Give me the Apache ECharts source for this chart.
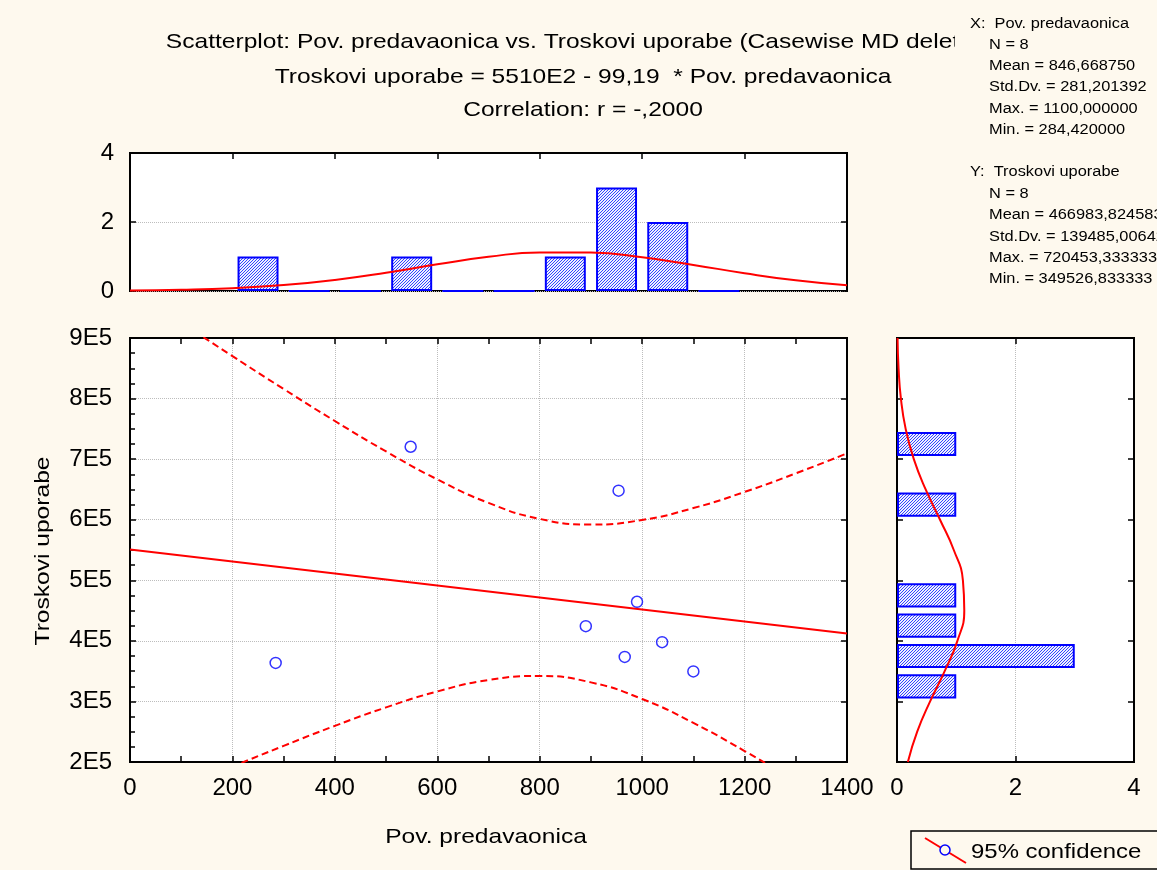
<!DOCTYPE html>
<html><head><meta charset="utf-8">
<script src="https://cdn.jsdelivr.net/npm/echarts@6/dist/echarts.min.js"></script>
<style>html,body{margin:0;padding:0;background:#fef9ee}#c{width:1157px;height:870px}</style>
</head><body><div id="c"></div>
<script>
// ---- data ----
const xVals = [284.42, 548, 954, 990, 890, 966, 1039, 1100];
const yVals = [363600, 720453, 648000, 464500, 424300, 373500, 397800, 349527];
const regX = [0, 1400];
const regY = [551000, 412134];
const bandX = [0,100,200,300,400,500,600,700,800,900,1000,1100,1200,1300,1400];
const upperBand = [981455,925431,870104,815781,762994,712682,666566,627786,601352,592036,599633,619197,645835,676516,709588];
const lowerBand = [120545,156731,192220,226705,259654,290128,316406,335348,341944,331422,303987,264585,218109,167590,114680];
const topBins = ['0','100','200','300','400','500','600','700','800','900','1000','1100','1200','1300'];
const topCounts = ['-','-',1,0,0,1,0,0,1,3,2,0,'-','-'];
const topCurveX = [0,100,200,300,400,500,600,700,800,900,1000,1100,1200,1300,1400];
const topCurve = [0.0122,0.0334,0.0806,0.1715,0.3217,0.531,0.7725,0.9906,1.1195,1.1148,0.978,0.7564,0.5154,0.3095,0.1638];
const rightBins = ['200000','250000','300000','350000','400000','450000','500000','550000','600000','650000','700000','750000','800000','850000'];
const rightCounts = ['-','-',1,3,1,1,'-','-',1,'-',1,'-','-','-'];
const rightCurveY = [200000,250000,300000,350000,400000,450000,500000,550000,600000,650000,700000,750000,800000,850000,900000];
const rightCurve = [0.1832,0.3411,0.5587,0.8048,1.0194,1.1356,1.1124,0.9583,0.7261,0.4837,0.2835,0.1461,0.0661,0.0264,0.0093];
const titleLines = ['Scatterplot: Pov. predavaonica vs. Troskovi uporabe (Casewise MD deletion)',
  'Troskovi uporabe = 5510E2 - 99,19  * Pov. predavaonica',
  'Correlation: r = -,2000'];
const statsX = ['X:  Pov. predavaonica','N = 8','Mean = 846,668750','Std.Dv. = 281,201392','Max. = 1100,000000','Min. = 284,420000'];
const statsY = ['Y:  Troskovi uporabe','N = 8','Mean = 466983,824583','Std.Dv. = 139485,006420','Max. = 720453,333333','Min. = 349526,833333'];
const xName = 'Pov. predavaonica';
const yName = 'Troskovi uporabe';
const legendText = '95% confidence';

// ---- style ----
const FONT = '"Liberation Sans", Arial, sans-serif';
const BG = '#fef9ee';
function hatch(){
  const c = document.createElement('canvas'); c.width = 3; c.height = 3;
  const g = c.getContext('2d');
  g.fillStyle = '#eef0ff'; g.fillRect(0,0,3,3);
  g.strokeStyle = '#3344ff'; g.lineWidth = 1;
  g.beginPath();
  g.moveTo(0,3); g.lineTo(3,0);
  g.moveTo(-1,1); g.lineTo(1,-1);
  g.moveTo(2,4); g.lineTo(4,2);
  g.stroke();
  return c;
}
const hatchFill = {image: hatch(), repeat: 'repeat'};
const axLine = {show:true, onZero:false, lineStyle:{color:'#000', width:2}};
const tickIn = {show:true, inside:true, length:6, lineStyle:{color:'#000', width:1.5}};
const grid = (l,t,w,h)=>({left:l, top:t, width:w, height:h, show:true, backgroundColor:'#fff', borderColor:'#000', borderWidth:2, containLabel:false});
const lbl = (m)=>({show:true, color:'#000', fontSize:24, fontFamily:FONT, margin:m, formatter:v=>String(v)});
const split = {show:true, lineStyle:{color:'#bdbdbd', type:'dotted', width:1}};
const noLbl = {show:false};
const noSplit = {show:false};

const chart = echarts.init(document.getElementById('c'), null, {renderer:'canvas'});

const txt = (t,x,y,fs,sx,align,extra)=>Object.assign({type:'text', x:x, y:y, z:50, scaleX:sx, originX:0, originY:0,
  style:{text:t, fontSize:fs, fontFamily:FONT, fill:'#000', textAlign:align, align:align, textVerticalAlign:'middle', verticalAlign:'middle'}}, extra||{});

const graphics = [];
const titleY = [42, 77, 110];
titleLines.forEach((t,i)=>graphics.push(txt(t,583,titleY[i],21,1.17,'center')));
graphics.push({type:'rect', z:60, shape:{x:955,y:0,width:210,height:300}, style:{fill:BG}});
const sxY = [24,45,66,87,109,130];
const syY = [172,194,215,237,258,279];
statsX.forEach((t,i)=>graphics.push(txt(t, i===0?970:989, sxY[i], 14, 1.17, 'left', {z:70})));
statsY.forEach((t,i)=>graphics.push(txt(t, i===0?970:989, syY[i], 14, 1.17, 'left', {z:70})));
graphics.push(txt(xName, 486, 837, 21, 1.17, 'center'));
graphics.push(txt(yName, 43, 551, 21, 1.17, 'center', {rotation: Math.PI/2}));
graphics.push({type:'rect', z:60, shape:{x:911,y:831,width:260,height:38}, style:{fill:BG, stroke:'#000', lineWidth:1.5}});
graphics.push({type:'line', z:61, shape:{x1:925,y1:838,x2:966,y2:863}, style:{stroke:'#ff0000', lineWidth:2}});
graphics.push({type:'circle', z:62, shape:{cx:945,cy:850,r:5}, style:{fill:BG, stroke:'#0000ff', lineWidth:1.5}});
graphics.push(txt(legendText, 971, 852, 21, 1.14, 'left', {z:63}));

const option = {
  backgroundColor: BG,
  animation: false,
  grid: [grid(130,338,717,424), grid(130,153,717,138), grid(897,338,237,424)],
  xAxis: [
    {gridIndex:0, type:'value', min:0, max:1400, interval:200, position:'bottom', axisLine:axLine, axisTick:tickIn,
      minorTick:{show:true, splitNumber:2, length:6, lineStyle:{color:'#000', width:1.5}}, axisLabel:lbl(14), splitLine:split},
    {gridIndex:0, type:'value', min:0, max:1400, interval:200, position:'top', axisLine:axLine, axisTick:tickIn,
      minorTick:{show:true, splitNumber:2, length:6, lineStyle:{color:'#000', width:1.5}}, axisLabel:noLbl, splitLine:noSplit},
    {gridIndex:1, type:'category', data:topBins, show:false},
    {gridIndex:1, type:'value', min:0, max:1400, interval:200, position:'top', axisLine:axLine, axisTick:tickIn, axisLabel:noLbl, splitLine:noSplit},
    {gridIndex:2, type:'value', min:0, max:4, interval:2, position:'bottom', axisLine:axLine, axisTick:tickIn, axisLabel:lbl(14), splitLine:split},
    {gridIndex:2, type:'value', min:0, max:4, interval:2, position:'top', axisLine:axLine, axisTick:tickIn, axisLabel:noLbl, splitLine:noSplit}
  ],
  yAxis: [
    {gridIndex:0, type:'value', min:200000, max:900000, interval:100000, position:'left', axisLine:axLine, axisTick:tickIn,
      minorTick:{show:true, splitNumber:4, length:5, lineStyle:{color:'#000', width:1.5}},
      axisLabel:Object.assign(lbl(18), {formatter:v=>(v/100000)+'E5'}), splitLine:split},
    {gridIndex:0, type:'value', min:200000, max:900000, interval:100000, position:'right', axisLine:axLine, axisTick:tickIn, axisLabel:noLbl, splitLine:noSplit},
    {gridIndex:1, type:'value', min:0, max:4, interval:2, position:'left', axisLine:axLine, axisTick:tickIn, axisLabel:lbl(16), splitLine:split},
    {gridIndex:1, type:'value', min:0, max:4, interval:2, position:'right', axisLine:axLine, axisTick:tickIn, axisLabel:noLbl, splitLine:noSplit},
    {gridIndex:2, type:'category', data:rightBins, show:false},
    {gridIndex:2, type:'value', min:200000, max:900000, interval:100000, position:'left', axisLine:axLine, axisTick:tickIn, axisLabel:noLbl, splitLine:noSplit},
    {gridIndex:2, type:'value', min:200000, max:900000, interval:100000, position:'right', axisLine:axLine, axisTick:tickIn, axisLabel:noLbl, splitLine:noSplit}
  ],
  series: [
    {type:'line', xAxisIndex:0, yAxisIndex:0, data:regX.map((x,i)=>[x,regY[i]]), symbol:'none', silent:true,
      lineStyle:{color:'#ff0000', width:2}, z:3},
    {type:'line', xAxisIndex:0, yAxisIndex:0, data:bandX.map((x,i)=>[x,upperBand[i]]), symbol:'none', smooth:true, silent:true, clip:true,
      lineStyle:{color:'#ff0000', width:2, type:[7,4]}, z:3},
    {type:'line', xAxisIndex:0, yAxisIndex:0, data:bandX.map((x,i)=>[x,lowerBand[i]]), symbol:'none', smooth:true, silent:true, clip:true,
      lineStyle:{color:'#ff0000', width:2, type:[7,4]}, z:3},
    {type:'scatter', xAxisIndex:0, yAxisIndex:0, data:xVals.map((x,i)=>[x,yVals[i]]), symbol:'circle', symbolSize:11,
      itemStyle:{color:'rgba(255,255,255,0)', borderColor:'#0000ff', borderWidth:1.5}, z:4},
    {type:'bar', xAxisIndex:2, yAxisIndex:2, data:topCounts, barWidth:'80%',
      itemStyle:{color:hatchFill, borderColor:'#0000ff', borderWidth:2}, z:2},
    {type:'line', xAxisIndex:3, yAxisIndex:2, data:topCurveX.map((x,i)=>[x,topCurve[i]]), symbol:'none', smooth:true, silent:true,
      lineStyle:{color:'#ff0000', width:2}, z:3},
    {type:'bar', xAxisIndex:4, yAxisIndex:4, data:rightCounts, barWidth:'80%',
      itemStyle:{color:hatchFill, borderColor:'#0000ff', borderWidth:2}, z:2},
    {type:'line', xAxisIndex:4, yAxisIndex:5, data:rightCurveY.map((y,i)=>[rightCurve[i],y]), symbol:'none', smooth:true, silent:true,
      lineStyle:{color:'#ff0000', width:2}, z:3}
  ],
  graphic: graphics
};
chart.setOption(option);
</script>
</body></html>
